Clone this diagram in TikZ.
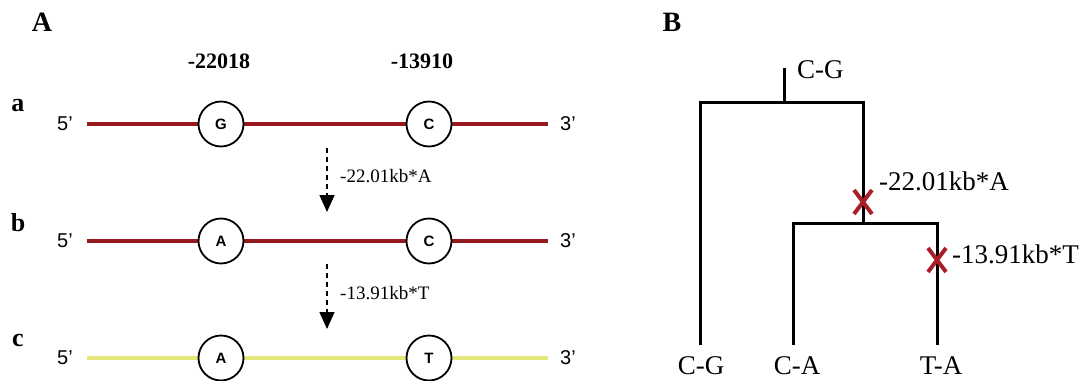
\documentclass[tikz,border=0pt]{standalone}
\usepackage{fontspec}
\setmainfont{Liberation Serif}
\setsansfont{Liberation Sans}
\usetikzlibrary{arrows.meta,positioning,shapes.misc}
\definecolor{strandred}{RGB}{150,25,30}
\definecolor{strandyellow}{RGB}{228,232,120}
\definecolor{mutred}{RGB}{170,30,40}

\begin{document}
\begin{tikzpicture}[x=1pt, y=-1pt,
    site/.style={circle, draw, line width=1.8pt, fill=white, minimum size=45pt, inner sep=0pt, font=\sffamily\bfseries\fontsize{15}{15}\selectfont},
    strand/.style={line width=4pt},
    endlab/.style={font=\sffamily\fontsize{20}{20}\selectfont},
    panel/.style={font=\bfseries\fontsize{28}{28}\selectfont},
    rowlab/.style={font=\bfseries\fontsize{26}{26}\selectfont},
    poslab/.style={font=\bfseries\fontsize{22}{22}\selectfont},
    mutarr/.style={dash pattern=on 5pt off 4pt, line width=1.4pt, -{Triangle[width=15pt,length=17pt]}},
    mutlab/.style={font=\fontsize{19}{19}\selectfont, anchor=west, inner sep=0pt},
    branch/.style={line width=3pt},
    hap/.style={font=\fontsize{27}{27}\selectfont, inner sep=0pt},
    mutx/.style={cross out, draw=mutred, line width=4pt, minimum width=14pt, minimum height=20pt, inner sep=0pt}
]
\useasboundingbox (0,0) rectangle (1081,380);

% panel A
\node[panel] (pA) at (42,22) {A};
\node[poslab] (p1) at (219,61) {-22018};
\node[poslab] (p2) at (422,61) {-13910};

\foreach \row/\y/\col/\b/\c in {a/124/strandred/G/C, b/241/strandred/A/C, c/358/strandyellow/A/T} {
  \node[rowlab] (r\row) at (18,\y-18) {\row};
  \node[endlab] (five\row) at (65,\y) {5'};
  \node[endlab] (three\row) at (568,\y) {3'};
  \draw[strand, \col] (87,\y) coordinate (s\row) -- (548,\y) coordinate (e\row);
  \node[site] (g\row) at (221,\y) {\b};
  \node[site] (h\row) at (429,\y) {\c};
}

\coordinate (d1) at (327,148);
\coordinate (t1) at (327,212);
\coordinate (d2) at (327,264);
\coordinate (t2) at (327,329);
\draw[mutarr] (d1) -- (t1);
\draw[mutarr] (d2) -- (t2);
\node[mutlab] (l1) at (340,176) {-22.01kb*A};
\node[mutlab] (l2) at (340,293) {-13.91kb*T};

% panel B
\node[panel] (pB) at (672,22) {B};
\coordinate (top) at (784,68);
\coordinate (root) at (784,102);
\coordinate (n1) at (863,223);
\coordinate (cg) at (700,345);
\coordinate (ca) at (793,345);
\coordinate (ta) at (937,345);
\draw[branch] (root) -- (top);
\draw[branch] (cg) |- (root) -| (n1);
\draw[branch] (ca) |- (n1) -| (ta);

\node[hap, anchor=west] (hroot) at (797,70) {C-G};
\node[hap] (hcg) at (701,366) {C-G};
\node[hap] (hca) at (797,366) {C-A};
\node[hap] (hta) at (941,366) {T-A};

\node[mutx] (m1) at (863,202) {};
\node[mutx] (m2) at (937,260) {};
\node[hap, anchor=west] (ml1) at (879,181) {-22.01kb*A};
\node[hap, anchor=west] (ml2) at (952,254) {-13.91kb*T};
\end{tikzpicture}
\end{document}
